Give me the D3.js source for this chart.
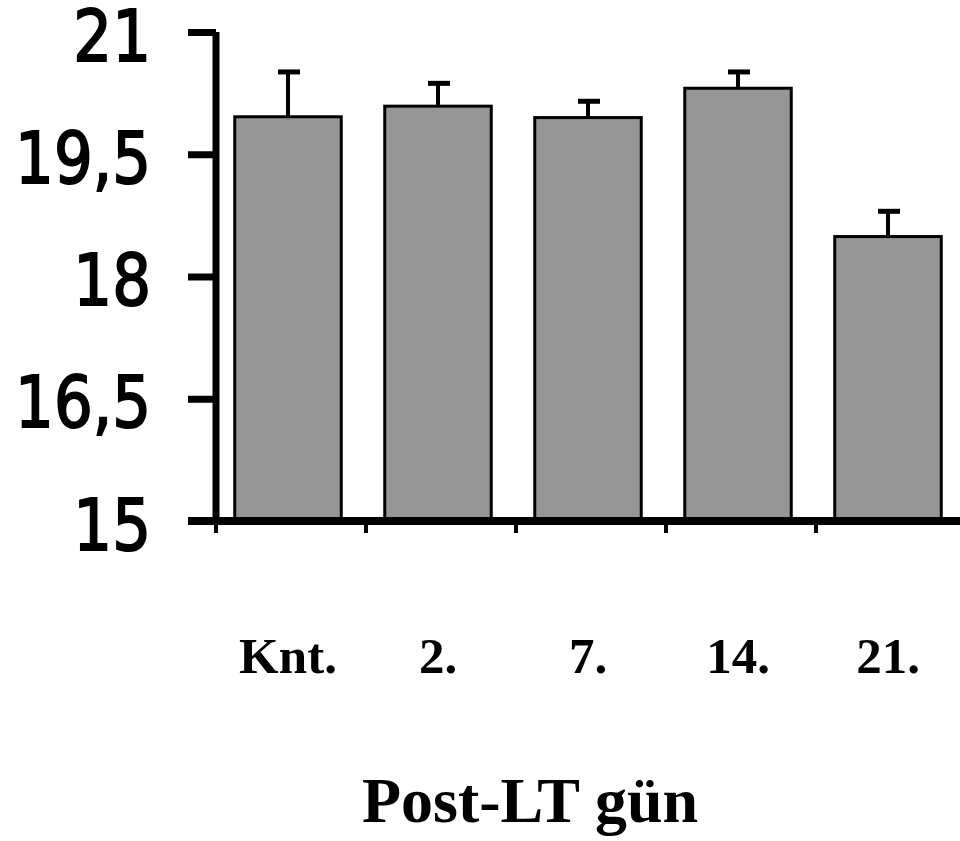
<!DOCTYPE html>
<html>
<head>
<meta charset="utf-8">
<script src="https://cdn.jsdelivr.net/npm/d3@7"></script>
<style>
  body { margin: 0; background: #fff; }
</style>
</head>
<body>
<div id="chart"></div>
<script>
// chart data
const categories = ["Knt.", "2.", "7.", "14.", "21."];
const means = [19.96, 20.09, 19.95, 20.31, 18.49];
const errors = [0.55, 0.28, 0.20, 0.20, 0.31];
const yTicks = [15, 16.5, 18, 19.5, 21];
const xTitle = "Post-LT gün";

const width = 960, height = 841;

const svg = d3.select("#chart")
  .append("svg")
  .attr("width", width)
  .attr("height", height);

// scales
const x = d3.scaleBand()
  .domain(categories)
  .range([213, 963])
  .paddingInner(0.29)
  .paddingOuter(0.145);

const y = d3.scaleLinear()
  .domain([15, 21])
  .range([521, 32]);

// bars
svg.selectAll("rect.bar")
  .data(categories)
  .enter()
  .append("rect")
  .attr("class", "bar")
  .attr("x", d => x(d))
  .attr("width", x.bandwidth())
  .attr("y", (d, i) => y(means[i]))
  .attr("height", (d, i) => y(15) - y(means[i]))
  .attr("fill", "#969696")
  .attr("stroke", "#000")
  .attr("stroke-width", 3);

// error bars (upper only)
const err = svg.selectAll("g.err")
  .data(categories)
  .enter()
  .append("g")
  .attr("class", "err");

err.append("line")
  .attr("x1", d => x(d) + x.bandwidth() / 2)
  .attr("x2", d => x(d) + x.bandwidth() / 2)
  .attr("y1", (d, i) => y(means[i]))
  .attr("y2", (d, i) => y(means[i] + errors[i]))
  .attr("stroke", "#000")
  .attr("stroke-width", 4);

err.append("line")
  .attr("x1", d => x(d) + x.bandwidth() / 2 - 10)
  .attr("x2", d => x(d) + x.bandwidth() / 2 + 12)
  .attr("y1", (d, i) => y(means[i] + errors[i]))
  .attr("y2", (d, i) => y(means[i] + errors[i]))
  .attr("stroke", "#000")
  .attr("stroke-width", 5);

// Y axis
const yAxis = svg.append("g")
  .attr("transform", "translate(216,0)")
  .call(d3.axisLeft(y)
    .tickValues(yTicks)
    .tickSize(28)
    .tickPadding(0)
    .tickFormat(d => String(d).replace(".", ",")));

yAxis.select(".domain")
  .attr("d", `M0,${y(21)}V${y(15)}`)
  .attr("stroke", "#000")
  .attr("stroke-width", 7);
yAxis.selectAll(".tick line")
  .attr("stroke", "#000")
  .attr("stroke-width", 7);
yAxis.selectAll(".tick text")
  .attr("x", null)
  .attr("dy", null)
  .attr("text-anchor", "end")
  .attr("transform", "translate(-65,28) scale(0.86,1)")
  .style("font-family", "'DejaVu Sans', sans-serif")
  .style("font-size", "71px")
  .style("fill", "#000")
  .style("stroke", "#000")
  .style("stroke-width", "2px");

// X axis: category boundary ticks
const bounds = categories.map(d => x(d) - x.step() * x.paddingInner() / 2);

svg.append("line")
  .attr("x1", 188)
  .attr("x2", width)
  .attr("y1", y(15))
  .attr("y2", y(15))
  .attr("stroke", "#000")
  .attr("stroke-width", 8);

svg.selectAll("line.xtick")
  .data(bounds)
  .enter()
  .append("line")
  .attr("class", "xtick")
  .attr("x1", d => d + 3)
  .attr("x2", d => d + 3)
  .attr("y1", y(15))
  .attr("y2", y(15) + 12)
  .attr("stroke", "#000")
  .attr("stroke-width", 4);

// category labels
svg.selectAll("text.cat")
  .data(categories)
  .enter()
  .append("text")
  .attr("class", "cat")
  .attr("x", d => x(d) + x.bandwidth() / 2)
  .attr("y", 673)
  .attr("text-anchor", "middle")
  .style("font-family", "'Liberation Serif', 'Times New Roman', serif")
  .style("font-weight", "bold")
  .style("font-size", "51px")
  .text(d => d);

// axis title
svg.append("text")
  .attr("x", 530)
  .attr("y", 822)
  .attr("text-anchor", "middle")
  .style("font-family", "'Liberation Serif', 'Times New Roman', serif")
  .style("font-weight", "bold")
  .style("font-size", "64px")
  .text(xTitle);
</script>
</body>
</html>
